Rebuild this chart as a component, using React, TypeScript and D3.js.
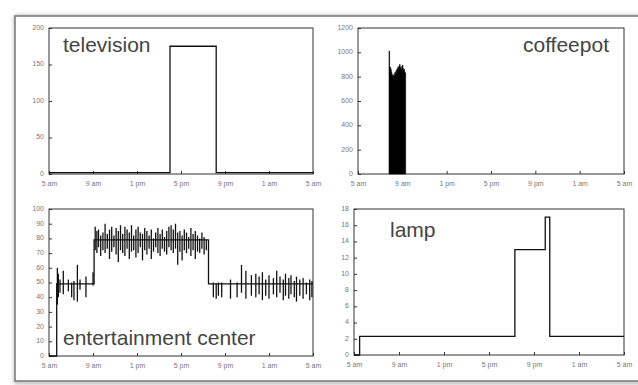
import { useEffect, useRef } from 'react';
import * as d3 from 'd3';

// hours since 5 am
const hourTicks = [0, 4, 8, 12, 16, 20, 24];
const hourLabels = ['5 am', '9 am', '1 pm', '5 pm', '9 pm', '1 am', '5 am'];

// step series: [hour, value]
const televisionSteps: [number, number][] = [[0, 2], [11, 175], [15.2, 2], [24, 2]];
const lampSteps: [number, number][] = [[0, 0], [0.5, 2.3], [14.3, 13], [17, 17], [17.4, 2.3], [24, 2.3]];
const entertainmentSteps: [number, number][] = [[0, 0], [0.7, 49], [4.1, 79], [14.5, 49], [24, 49]];

// coffeepot power, sampled every 0.05 h from 7:48 am
const coffeeStart = 2.8;
const coffeeValues = [
  1010, 880, 875, 860, 840, 820, 810, 800, 815, 805, 830, 840, 820, 850, 860,
  870, 880, 860, 890, 900, 880, 860, 870, 885, 895, 870, 850, 860, 840, 830,
];

// entertainment center noise: [hour, low, high]
const entertainmentSpikes: [number, number, number][] = [
  [0.76, 35, 60], [0.85, 40, 56], [1.0, 43, 52], [1.3, 42, 58], [1.76, 44, 52],
  [2.06, 40, 50], [2.27, 38, 51], [2.58, 37, 62], [2.82, 45, 52], [3.36, 40, 54], [4.0, 48, 57],
  [4.2, 72, 88], [4.35, 70, 85], [4.5, 74, 86], [4.7, 68, 82], [4.9, 72, 84], [5.1, 70, 90],
  [5.3, 73, 83], [5.5, 66, 86], [5.7, 71, 88], [5.9, 74, 82], [6.1, 69, 87], [6.3, 64, 85],
  [6.5, 72, 89], [6.7, 70, 83], [6.9, 68, 88], [7.1, 73, 86], [7.3, 66, 84], [7.5, 71, 89],
  [7.7, 72, 82], [7.9, 67, 86], [8.1, 70, 88], [8.3, 74, 84], [8.5, 65, 83], [8.7, 72, 87],
  [8.9, 69, 85], [9.1, 73, 82], [9.3, 66, 86], [9.5, 71, 80], [9.7, 74, 84], [9.9, 70, 87],
  [10.1, 68, 83], [10.3, 73, 86], [10.5, 71, 81], [10.7, 69, 85], [10.9, 74, 88], [11.1, 72, 89],
  [11.3, 70, 86], [11.5, 73, 90], [11.7, 62, 84], [11.9, 71, 85], [12.1, 65, 82], [12.3, 72, 86],
  [12.5, 70, 84], [12.7, 73, 81], [12.9, 68, 87], [13.1, 72, 83], [13.3, 66, 85], [13.5, 71, 82],
  [13.7, 70, 80], [13.9, 73, 84], [14.1, 69, 81], [14.3, 72, 79],
  [14.94, 40, 50], [15.2, 39, 49], [15.4, 41, 50], [15.7, 40, 50], [16.5, 39, 52], [17.1, 40, 50],
  [17.5, 43, 62], [17.9, 39, 58], [18.4, 41, 55], [18.8, 40, 56], [19.1, 42, 54], [19.4, 38, 57],
  [19.7, 41, 52], [20.0, 39, 55], [20.4, 42, 53], [20.7, 40, 58], [21.0, 43, 54], [21.3, 38, 52],
  [21.5, 41, 56], [21.8, 39, 53], [22.0, 42, 55], [22.3, 40, 51], [22.5, 37, 54], [22.8, 41, 52],
  [23.1, 39, 53], [23.4, 42, 50], [23.7, 38, 52], [23.9, 40, 51],
];

const tvTicks = [0, 50, 100, 150, 200];
const coffeeTicks = [0, 200, 400, 600, 800, 1000, 1200];
const entTicks = [0, 10, 20, 30, 40, 50, 60, 70, 80, 90, 100];
const lampTicks = [0, 2, 4, 6, 8, 10, 12, 14, 16, 18];

export default function App() {
  const svgRef = useRef<SVGSVGElement>(null);

  useEffect(() => {
    if (!svgRef.current) return;
    const width = 638;
    const height = 385;
    const svg = d3.select(svgRef.current).attr('width', width).attr('height', height);
    svg.selectAll('*').remove();

    const font = 'Liberation Sans, Arial, sans-serif';

    // outer frame with soft shadow
    const defs = svg.append('defs');
    const f = defs.append('filter').attr('id', 'shadow').attr('x', '-5%').attr('y', '-5%').attr('width', '110%').attr('height', '110%');
    f.append('feGaussianBlur').attr('stdDeviation', 2);
    svg.append('rect').attr('x', 16).attr('y', 17).attr('width', 640).attr('height', 365)
      .attr('fill', 'none').attr('stroke', '#999').attr('stroke-width', 3).attr('filter', 'url(#shadow)');
    svg.append('rect').attr('x', 15).attr('y', 16).attr('width', 640).attr('height', 365)
      .attr('fill', '#fff').attr('stroke', '#777').attr('stroke-width', 1.5);

    const panels = [
      { x0: 49, x1: 313, y0: 28, y1: 174, max: 200, ticks: tvTicks, title: 'television', tx: 63, ty: 52, anchor: 'start' },
      { x0: 358, x1: 624, y0: 28, y1: 174, max: 1200, ticks: coffeeTicks, title: 'coffeepot', tx: 609, ty: 52, anchor: 'end' },
      { x0: 49, x1: 313, y0: 209, y1: 356, max: 100, ticks: entTicks, title: 'entertainment center', tx: 63, ty: 345, anchor: 'start' },
      { x0: 354, x1: 624, y0: 209, y1: 355, max: 18, ticks: lampTicks, title: 'lamp', tx: 390, ty: 237, anchor: 'start' },
    ];

    const scales = panels.map((p) => {
      const x = d3.scaleLinear().domain([0, 24]).range([p.x0, p.x1]);
      const y = d3.scaleLinear().domain([0, p.max]).range([p.y1, p.y0]);

      const g = svg.append('g');
      g.append('rect').attr('x', p.x0).attr('y', p.y0).attr('width', p.x1 - p.x0).attr('height', p.y1 - p.y0)
        .attr('fill', 'none').attr('stroke', '#333').attr('stroke-width', 1);

      const xa = g.append('g').attr('transform', `translate(0,${p.y1})`)
        .call(d3.axisBottom(x).tickValues(hourTicks).tickSizeInner(-3).tickSizeOuter(0).tickPadding(7)
          .tickFormat((d, i) => hourLabels[i]));
      const ya = g.append('g').attr('transform', `translate(${p.x0},0)`)
        .call(d3.axisLeft(y).tickValues(p.ticks).tickSizeInner(-3).tickSizeOuter(0).tickPadding(5)
          .tickFormat(d3.format('d')));
      [xa, ya].forEach((a) => {
        a.select('.domain').remove();
        a.selectAll('line').attr('stroke', '#333');
        a.selectAll('text').attr('fill', '#777').attr('font-size', 7).attr('font-family', font);
      });
      ya.selectAll('text').attr('dy', '0.2em');

      g.append('text').attr('x', p.tx).attr('y', p.ty).attr('text-anchor', p.anchor)
        .attr('font-family', font).attr('font-size', 21).attr('fill', '#444').text(p.title);
      return { x, y };
    });

    const stepLine = (s: { x: d3.ScaleLinear<number, number>; y: d3.ScaleLinear<number, number> }) =>
      d3.line<[number, number]>().x((d) => s.x(d[0])).y((d) => s.y(d[1])).curve(d3.curveStepAfter);

    // television
    svg.append('path').datum(televisionSteps).attr('d', stepLine(scales[0]))
      .attr('fill', 'none').attr('stroke', '#111').attr('stroke-width', 1.3);

    // coffeepot
    const cs = scales[1];
    const coffee: [number, number][] = coffeeValues.map((v, i) => [coffeeStart + i * 0.05, v]);
    coffee.push([coffeeStart + coffeeValues.length * 0.05, coffeeValues[coffeeValues.length - 1]]);
    svg.append('path').datum(coffee)
      .attr('d', d3.area<[number, number]>().x((d) => cs.x(d[0])).y0(cs.y(0)).y1((d) => cs.y(d[1])).curve(d3.curveStepAfter))
      .attr('fill', '#000').attr('stroke', '#000').attr('stroke-width', 0.6);

    // entertainment center
    const es = scales[2];
    svg.append('g').selectAll('line').data(entertainmentSpikes).join('line')
      .attr('x1', (d) => es.x(d[0])).attr('x2', (d) => es.x(d[0]))
      .attr('y1', (d) => es.y(d[1])).attr('y2', (d) => es.y(d[2]))
      .attr('stroke', '#111').attr('stroke-width', 1.3);
    svg.append('path').datum(entertainmentSteps).attr('d', stepLine(es))
      .attr('fill', 'none').attr('stroke', '#111').attr('stroke-width', 1.3);

    // lamp
    svg.append('path').datum(lampSteps).attr('d', stepLine(scales[3]))
      .attr('fill', 'none').attr('stroke', '#111').attr('stroke-width', 1.3);
  }, []);

  return <svg ref={svgRef} style={{ position: 'absolute', left: 0, top: 0 }} />;
}
